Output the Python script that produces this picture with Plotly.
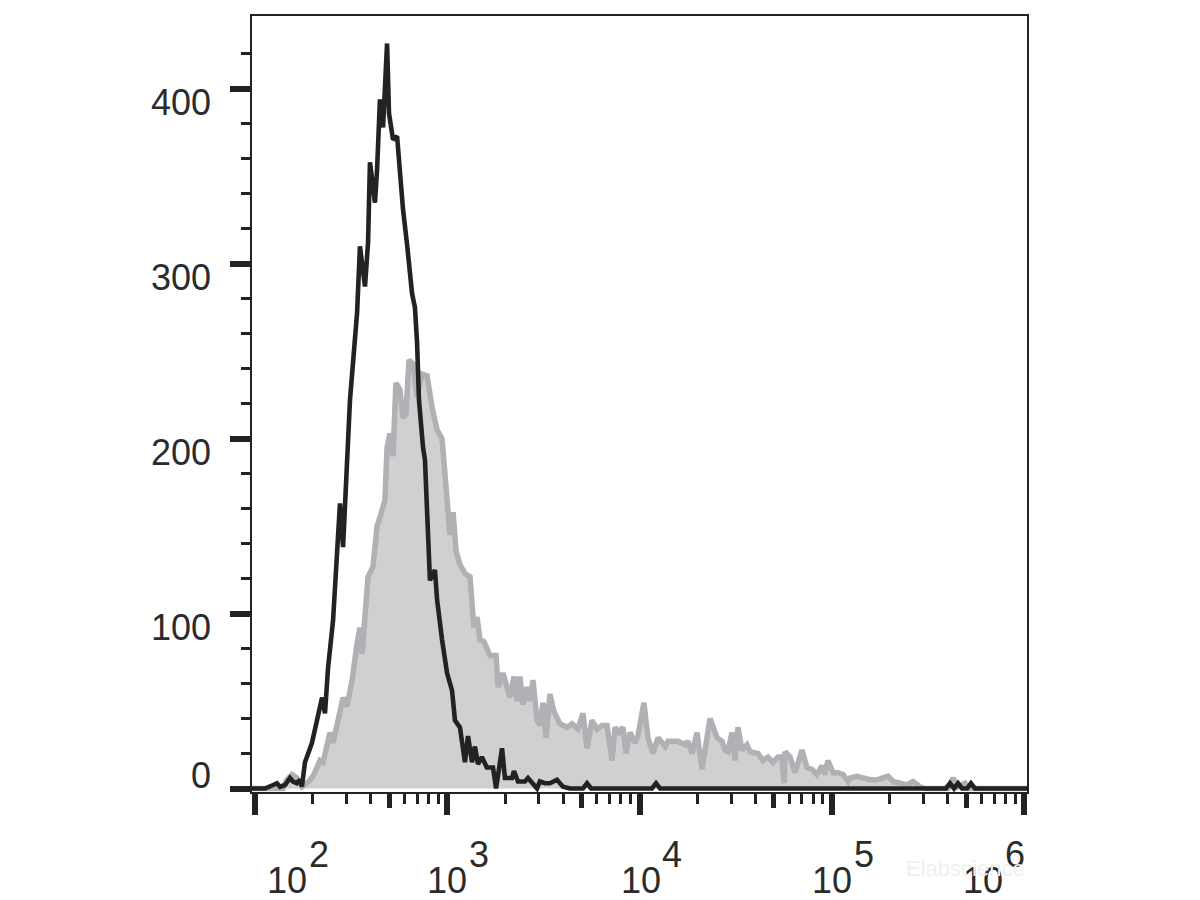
import numpy as np
import plotly.graph_objects as go

# ---- data (x values are log10 of fluorescence intensity, y are event counts) ----
control_log_x = [1.984, 2.052, 2.094, 2.114, 2.130, 2.156, 2.182, 2.198, 2.218, 2.234,
                 2.244, 2.260, 2.296, 2.323, 2.349, 2.364, 2.380, 2.406, 2.427, 2.442,
                 2.458, 2.468, 2.484, 2.494, 2.531, 2.546, 2.572, 2.588, 2.598, 2.624,
                 2.635, 2.650, 2.666, 2.687, 2.697, 2.718, 2.739, 2.770, 2.791, 2.817,
                 2.832, 2.843, 2.853, 2.863, 2.874, 2.884, 2.900, 2.910, 2.936, 2.947,
                 2.973, 2.999, 3.025, 3.040, 3.066, 3.092, 3.108, 3.129, 3.144, 3.160,
                 3.180, 3.206, 3.238, 3.254, 3.285, 3.300, 3.337, 3.347, 3.368, 3.404,
                 3.420, 3.467, 3.482, 3.508, 3.534, 3.571, 3.602, 3.638, 3.706, 3.727,
                 3.748, 4.065, 4.086, 4.107, 5.594, 5.615, 5.636, 5.657, 5.678, 5.704,
                 5.724, 5.745, 6.016]
control_counts = [0, 0, 2, 3, 1, 2, 6, 4, 3, 5,
                  1, 15, 26, 38, 52, 43, 69, 96, 132, 163,
                  138, 165, 205, 222, 272, 310, 287, 312, 358, 335,
                  354, 394, 378, 426, 386, 371, 373, 331, 311, 283,
                  275, 255, 222, 205, 195, 188, 136, 119, 125, 108,
                  85, 66, 56, 39, 35, 15, 30, 15, 24, 14,
                  18, 12, 12, 0, 23, 6, 6, 10, 4, 4,
                  6, 0, 4, 3, 3, 5, 1, 0, 0, 3,
                  0, 0, 3, 0, 0, 3, 0, 3, 0, 0,
                  3, 0, 0]

sample_log_x = [1.984, 2.146, 2.166, 2.192, 2.218, 2.244, 2.270, 2.302, 2.338, 2.354,
                2.390, 2.406, 2.432, 2.458, 2.479, 2.505, 2.531, 2.546, 2.557, 2.572,
                2.588, 2.614, 2.635, 2.650, 2.676, 2.687, 2.702, 2.718, 2.733, 2.754,
                2.770, 2.785, 2.801, 2.822, 2.843, 2.869, 2.895, 2.921, 2.947, 2.973,
                2.988, 3.004, 3.014, 3.030, 3.046, 3.066, 3.092, 3.118, 3.129, 3.139,
                3.155, 3.170, 3.191, 3.206, 3.222, 3.254, 3.264, 3.290, 3.311, 3.326,
                3.347, 3.363, 3.378, 3.394, 3.415, 3.430, 3.446, 3.467, 3.482, 3.498,
                3.514, 3.534, 3.555, 3.586, 3.623, 3.649, 3.680, 3.706, 3.727, 3.753,
                3.779, 3.805, 3.831, 3.857, 3.873, 3.893, 3.914, 3.930, 3.951, 3.977,
                3.992, 4.023, 4.044, 4.070, 4.096, 4.133, 4.148, 4.200, 4.237, 4.252,
                4.273, 4.299, 4.325, 4.341, 4.367, 4.403, 4.429, 4.445, 4.460, 4.481,
                4.497, 4.512, 4.533, 4.559, 4.575, 4.616, 4.642, 4.668, 4.694, 4.720,
                4.741, 4.752, 4.757, 4.783, 4.809, 4.845, 4.871, 4.897, 4.923, 4.949,
                4.965, 4.980, 5.007, 5.033, 5.059, 5.085, 5.095, 5.131, 5.162, 5.199,
                5.235, 5.267, 5.293, 5.319, 5.345, 5.391, 5.423, 5.459, 5.485, 5.605,
                5.631, 5.657, 5.693, 5.714, 6.016]
sample_counts = [0, 0, 5, 8, 6, 1, 3, 7, 16, 15,
                 32, 26, 39, 52, 47, 62, 83, 92, 77, 100,
                 121, 127, 150, 155, 165, 195, 203, 190, 232, 228,
                 212, 214, 245, 243, 224, 237, 236, 218, 205, 200,
                 176, 161, 145, 158, 136, 128, 123, 121, 108, 92,
                 98, 85, 84, 80, 76, 76, 58, 66, 58, 52,
                 64, 50, 64, 48, 58, 50, 62, 39, 36, 49,
                 29, 54, 44, 37, 35, 37, 34, 43, 23, 39,
                 34, 36, 36, 16, 35, 32, 35, 20, 32, 26,
                 30, 49, 29, 20, 29, 24, 27, 27, 25, 27,
                 20, 32, 11, 22, 40, 29, 27, 22, 21, 32,
                 16, 35, 22, 25, 21, 20, 16, 18, 15, 18,
                 18, 3, 21, 18, 9, 22, 12, 11, 8, 13,
                 8, 16, 9, 9, 8, 4, 6, 7, 6, 5,
                 5, 6, 7, 4, 3, 2, 4, 1, 0, 0,
                 6, 1, 3, 0, 0]

decades = [2, 3, 4, 5, 6]
decade_labels = ["10", "10", "10", "10", "10"]
exponent_labels = ["2", "3", "4", "5", "6"]
y_major = [0, 100, 200, 300, 400]
y_labels = ["0", "100", "200", "300", "400"]
y_minor = [v for v in range(20, 440, 20) if v % 100 != 0]
medium_mult = [5]
short_mult = [2, 3, 4, 6, 7, 8, 9]

x_range = [1.9844, 6.0156]
y_range = [-2.0, 441.7]

short_ticks = [float(np.log10(m)) + d for d in decades[:-1] for m in short_mult]
medium_ticks = [float(np.log10(m)) + d for d in decades[:-1] for m in medium_mult]

INK = "#222222"
FONT = "Arial, Liberation Sans, sans-serif"

fig = go.Figure()
fig.add_trace(go.Scatter(
    x=sample_log_x, y=sample_counts, mode="lines",
    line=dict(color="rgb(176,176,181)", width=5.5),
    fill="tozeroy", fillcolor="rgb(208,208,208)",
    hoverinfo="skip", showlegend=False))
fig.add_trace(go.Scatter(
    x=control_log_x, y=control_counts, mode="lines",
    line=dict(color="rgb(34,34,34)", width=4.6),
    hoverinfo="skip", showlegend=False))
# empty trace to host the overlaid axis carrying the medium ticks
fig.add_trace(go.Scatter(x=[], y=[], xaxis="x2", yaxis="y",
                         hoverinfo="skip", showlegend=False))

fig.update_layout(
    width=1200, height=900,
    margin=dict(l=252, r=173, t=16, b=108),
    plot_bgcolor="white", paper_bgcolor="white",
    showlegend=False,
    xaxis=dict(range=x_range, showgrid=False, zeroline=False,
               showline=True, linecolor=INK, linewidth=2, mirror=True,
               ticks="outside", tickmode="array", tickvals=decades,
               ticklen=21, tickwidth=6, tickcolor=INK, showticklabels=False,
               minor=dict(tickmode="array", tickvals=short_ticks, ticks="outside",
                          ticklen=10, tickwidth=3, tickcolor=INK, showgrid=False)),
    xaxis2=dict(range=x_range, overlaying="x", anchor="y", side="bottom",
                showgrid=False, zeroline=False, showline=False,
                ticks="outside", tickmode="array", tickvals=medium_ticks,
                ticklen=15, tickwidth=4.5, tickcolor=INK, showticklabels=False),
    yaxis=dict(range=y_range, showgrid=False, zeroline=False,
               showline=True, linecolor=INK, linewidth=2, mirror=True,
               ticks="outside", tickmode="array", tickvals=y_major,
               ticklen=20, tickwidth=6, tickcolor=INK, showticklabels=False,
               minor=dict(tickmode="array", tickvals=y_minor, ticks="outside",
                          ticklen=9, tickwidth=3, tickcolor=INK, showgrid=False)),
)

annotations = []
# y tick labels
for v, t in zip(y_major, y_labels):
    annotations.append(dict(
        xref="paper", x=0, xanchor="right", xshift=-39,
        yref="y", y=v, yanchor="middle", yshift=(13 if v == 0 else -13.5),
        text=t, showarrow=False,
        font=dict(family=FONT, size=36, color="#2b2b2b")))
# x tick labels: base "10" and exponent drawn separately
base_shift = {2: 31.5, 3: 0, 4: 1, 5: 0, 6: -41}
exp_shift = {2: 63.5, 3: 32, 4: 32.5, 5: 32, 6: -9}
for d, b, e in zip(decades, decade_labels, exponent_labels):
    annotations.append(dict(
        xref="x", x=d, xanchor="center", xshift=base_shift[d],
        yref="paper", y=0, yanchor="middle", yshift=-88,
        text=b, showarrow=False,
        font=dict(family=FONT, size=36, color="#2b2b2b")))
    annotations.append(dict(
        xref="x", x=d, xanchor="center", xshift=exp_shift[d],
        yref="paper", y=0, yanchor="middle", yshift=-62,
        text=e, showarrow=False,
        font=dict(family=FONT, size=36, color="#2b2b2b")))
# faint watermark
annotations.append(dict(
    xref="paper", x=0.92, xanchor="center",
    yref="paper", y=-0.098, yanchor="middle",
    text="Elabscience", showarrow=False,
    font=dict(family=FONT, size=22, color="#f0f0f0")))
fig.update_layout(annotations=annotations)

fig.write_html("out.html", include_plotlyjs=True,
               config={"displayModeBar": False},
               post_script="document.body.style.margin='0';document.body.style.overflow='hidden';")
